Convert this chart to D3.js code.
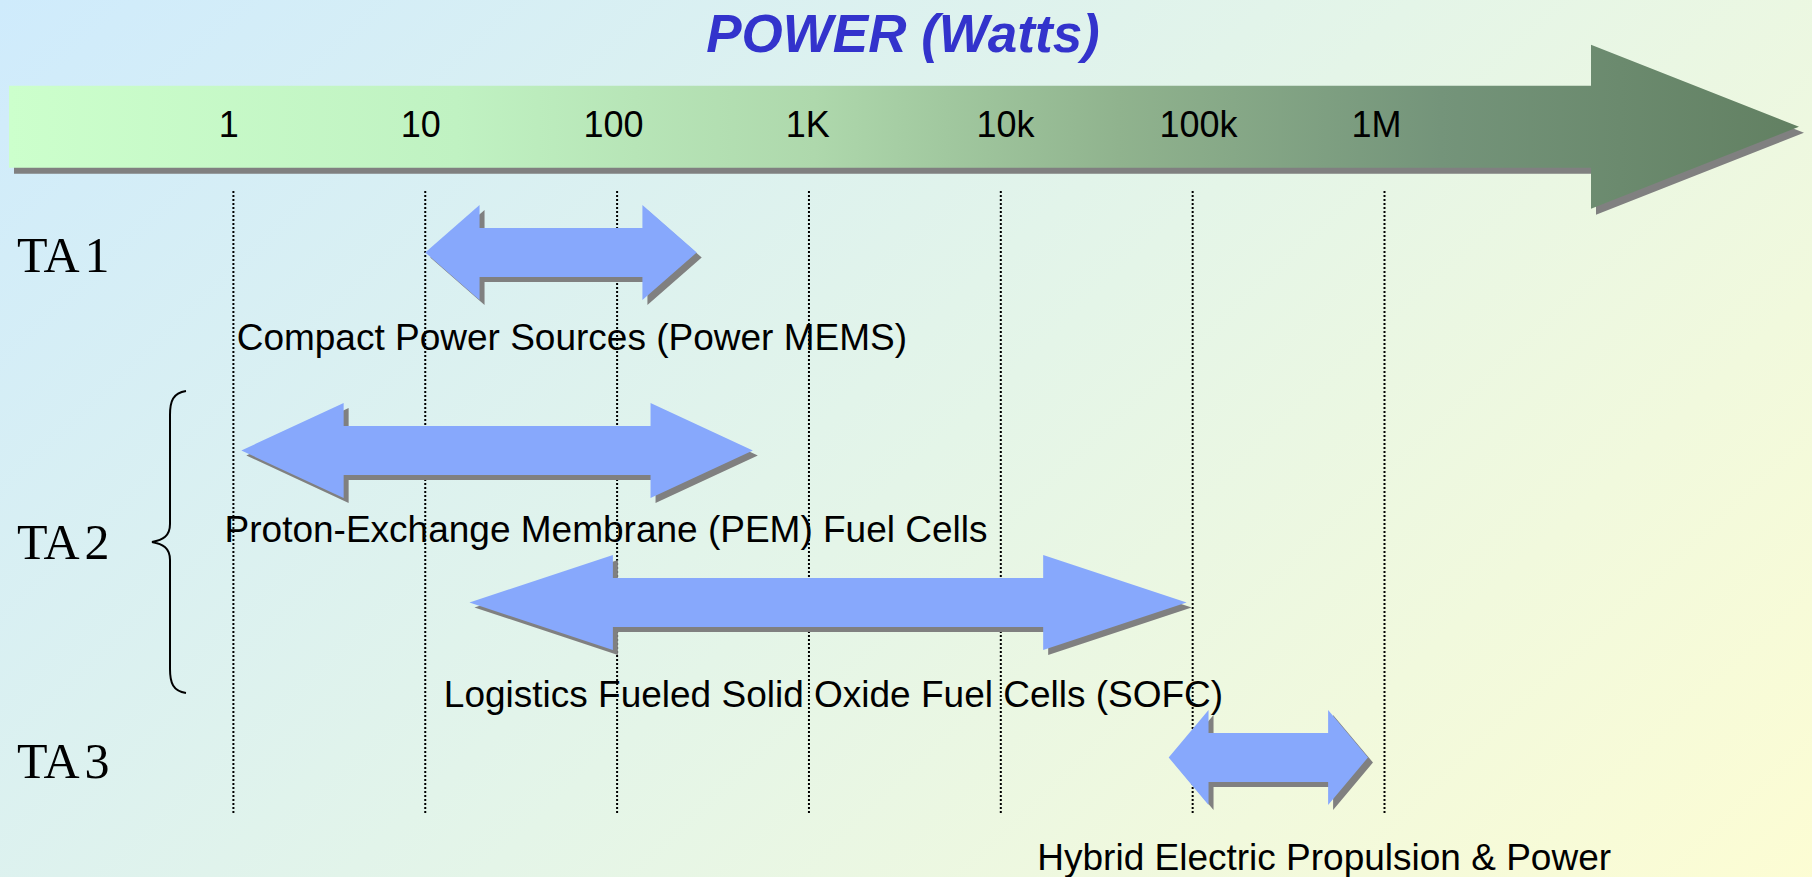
<!DOCTYPE html>
<html>
<head>
<meta charset="utf-8">
<script src="https://cdn.jsdelivr.net/npm/d3@7"></script>
<style>
  html, body { margin: 0; padding: 0; overflow: hidden; }
</style>
</head>
<body>
<div id="viz"></div>
<script>
// power axis ticks
var tickValues = [1, 10, 100, 1e3, 1e4, 1e5, 1e6];
var tickLabels = ["1", "10", "100", "1K", "10k", "100k", "1M"];

// technical areas and their technologies
var areaNames = ["TA 1", "TA 2", "TA 3"];
var techNames = [
  "Compact Power Sources (Power MEMS)",
  "Proton-Exchange Membrane (PEM) Fuel Cells",
  "Logistics Fueled Solid Oxide Fuel Cells (SOFC)",
  "Hybrid Electric Propulsion & Power"
];
var powerLow  = [10, 1.1, 17, 75000];      // W
var powerHigh = [260, 510, 93000, 820000]; // W

// layout: rows in lane units (50px each) below the axis
var techLane  = [0, 3.96, 7.0, 10.1];
var labelLane = [1.95, 5.79, 9.08, 12.34];
var labelAt   = [1.04, 0.9, 12.5, 15500];   // watts where each caption starts
var areaLane  = [0.38, 6.13, 10.5];
var tickNudge = [-4.6, -4.6, -3.5, -1.2, 4.6, 5.8, -8];

var W = 1812, H = 877;
var sans  = "'Liberation Sans', Arial, sans-serif";
var serif = "'Liberation Serif', 'Times New Roman', serif";

var x = d3.scaleLog().domain([1, 1e6]).range([233.4, 1384.5]);
var y = d3.scaleLinear().domain([0, 1]).range([252.5, 302.5]);

var svg = d3.select("#viz")
    .append("svg")
    .attr("width", W)
    .attr("height", H);

var defs = svg.append("defs");

var bg = defs.append("linearGradient")
    .attr("id", "bg")
    .attr("gradientUnits", "userSpaceOnUse")
    .attr("x1", 0).attr("y1", 0)
    .attr("x2", 1327).attr("y2", 1414);
bg.append("stop").attr("offset", 0).attr("stop-color", "#cfebfc");
bg.append("stop").attr("offset", 0.5).attr("stop-color", "#e4f5e8");
bg.append("stop").attr("offset", 1).attr("stop-color", "#fefdd2");

var ag = defs.append("linearGradient")
    .attr("id", "axisFill")
    .attr("gradientUnits", "userSpaceOnUse")
    .attr("x1", 9).attr("y1", 0)
    .attr("x2", 1799).attr("y2", 0);
ag.append("stop").attr("offset", 0).attr("stop-color", "#ccffcc");
ag.append("stop").attr("offset", 0.25).attr("stop-color", "#c0f2c2");
ag.append("stop").attr("offset", 0.45).attr("stop-color", "#aed8ac");
ag.append("stop").attr("offset", 0.62).attr("stop-color", "#90b38e");
ag.append("stop").attr("offset", 0.8).attr("stop-color", "#74947a");
ag.append("stop").attr("offset", 1).attr("stop-color", "#628062");

svg.append("rect")
    .attr("width", W)
    .attr("height", H)
    .style("fill", "url(#bg)");

// big power arrow along the top
var axLeft = x.range()[0] - 224.4, axBase = x(1e6) + 206.5, axTip = x(1e6) + 414.5;
var axY = 126.7, axBody = 41, axHead = 82;
var axisPts = [
  [axLeft, axY - axBody], [axBase, axY - axBody], [axBase, axY - axHead],
  [axTip, axY], [axBase, axY + axHead], [axBase, axY + axBody], [axLeft, axY + axBody]
];
var poly = function(p) { return "M" + p.map(function(d) { return d.join(","); }).join("L") + "Z"; };

svg.append("path")
    .attr("d", poly(axisPts))
    .attr("transform", "translate(5,6)")
    .style("fill", "#808080");
svg.append("path")
    .attr("d", poly(axisPts))
    .style("fill", "url(#axisFill)");

svg.selectAll("text.tick")
    .data(tickValues)
    .enter()
    .append("text")
    .attr("class", "tick")
    .attr("x", function(d, i) { return x(d) + tickNudge[i]; })
    .attr("y", 137)
    .attr("text-anchor", "middle")
    .style("font-family", sans)
    .style("font-size", "36px")
    .style("fill", "#000")
    .text(function(d, i) { return tickLabels[i]; });

svg.append("text")
    .attr("x", 903)
    .attr("y", 52)
    .attr("text-anchor", "middle")
    .style("font-family", sans)
    .style("font-size", "53px")
    .style("font-weight", "bold")
    .style("font-style", "italic")
    .style("fill", "#3333cc")
    .text("POWER (Watts)");

// dotted decade guides
svg.selectAll("line.guide")
    .data(tickValues)
    .enter()
    .append("line")
    .attr("class", "guide")
    .attr("x1", function(d) { return x(d); })
    .attr("x2", function(d) { return x(d); })
    .attr("y1", y(-1.23))
    .attr("y2", y(11.25))
    .style("stroke", "#000")
    .style("stroke-width", 2)
    .style("stroke-dasharray", "2,2");

// double-headed range arrows
var headHalf = 47.5, bodyHalf = 24.5;
function rangeArrow(i) {
  var x0 = x(powerLow[i]), x1 = x(powerHigh[i]), cy = y(techLane[i]);
  var h = 0.2 * (x1 - x0);
  return poly([
    [x0, cy], [x0 + h, cy - headHalf], [x0 + h, cy - bodyHalf], [x1 - h, cy - bodyHalf],
    [x1 - h, cy - headHalf], [x1, cy], [x1 - h, cy + headHalf], [x1 - h, cy + bodyHalf],
    [x0 + h, cy + bodyHalf], [x0 + h, cy + headHalf]
  ]);
}

var arrows = svg.selectAll("g.range")
    .data(techNames)
    .enter()
    .append("g")
    .attr("class", "range");

arrows.append("path")
    .attr("d", function(d, i) { return rangeArrow(i); })
    .attr("transform", "translate(5,5)")
    .style("fill", "#808080");
arrows.append("path")
    .attr("d", function(d, i) { return rangeArrow(i); })
    .style("fill", "#87a8fc");

svg.selectAll("text.tech")
    .data(techNames)
    .enter()
    .append("text")
    .attr("class", "tech")
    .attr("x", function(d, i) { return x(labelAt[i]); })
    .attr("y", function(d, i) { return y(labelLane[i]); })
    .style("font-family", sans)
    .style("font-size", "37px")
    .style("fill", "#000")
    .text(function(d) { return d; });

svg.selectAll("text.area")
    .data(areaNames)
    .enter()
    .append("text")
    .attr("class", "area")
    .attr("x", 17)
    .attr("y", function(d, i) { return y(areaLane[i]); })
    .style("font-family", serif)
    .style("font-size", "50px")
    .style("word-spacing", "-5px")
    .style("fill", "#000")
    .text(function(d) { return d; });

// brace grouping the two TA 2 technologies
var bTop = y(2.77), bBot = y(8.81), bMid = y(5.79);
svg.append("path")
    .attr("d", "M186," + bTop +
      " C173," + (bTop + 2) + " 170," + (bTop + 10) + " 170," + (bTop + 24) +
      " L170," + (bMid - 18) +
      " C170," + (bMid - 6) + " 163," + (bMid - 2) + " 152," + bMid +
      " C163," + (bMid + 2) + " 170," + (bMid + 6) + " 170," + (bMid + 18) +
      " L170," + (bBot - 24) +
      " C170," + (bBot - 10) + " 173," + (bBot - 2) + " 186," + bBot)
    .style("fill", "none")
    .style("stroke", "#000")
    .style("stroke-width", 2);
</script>
</body>
</html>
